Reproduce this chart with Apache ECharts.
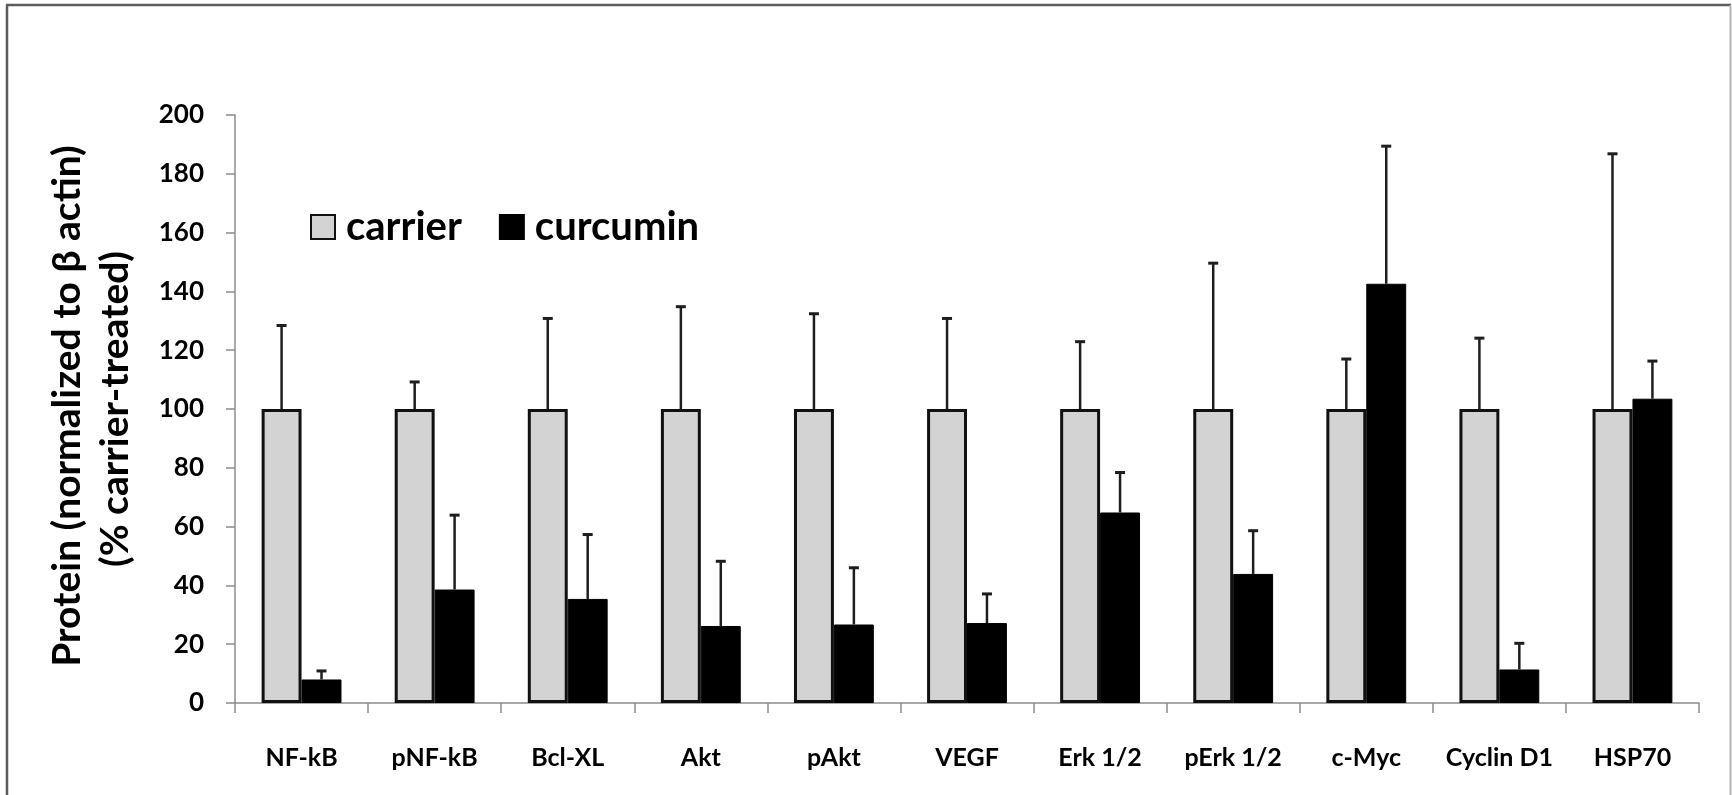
<!DOCTYPE html>
<html>
<head>
<meta charset="utf-8">
<script src="https://cdn.jsdelivr.net/npm/echarts@6/dist/echarts.min.js"></script>
<style>
  html, body { margin: 0; padding: 0; background: #fff; }
  #chart { width: 1732px; height: 795px; }
</style>
</head>
<body>
<div id="chart"></div>
<script>
// Proteins measured
const categories = ['NF-kB', 'pNF-kB', 'Bcl-XL', 'Akt', 'pAkt', 'VEGF', 'Erk 1/2', 'pErk 1/2', 'c-Myc', 'Cyclin D1', 'HSP70'];
// Mean protein level, % of carrier-treated
const carrier = [100, 100, 100, 100, 100, 100, 100, 100, 100, 100, 100];
const curcumin = [8, 38.6, 35.4, 26.2, 26.7, 27.2, 64.8, 43.9, 142.6, 11.4, 103.5];
// Upper error (SD) for each group
const carrierErr = [28.4, 9.2, 30.8, 34.8, 32.4, 30.8, 22.9, 49.6, 17.0, 24.1, 86.8];
const curcuminErr = [2.9, 25.3, 21.9, 22.0, 19.3, 9.9, 13.6, 14.7, 46.8, 8.9, 12.8];
// Value axis ticks
const yTicks = { min: 0, max: 200, interval: 20 };
// Value axis title, one entry per line
const yTitle = ['Protein (normalized to β actin)', '(% carrier-treated)'];

const FONT = 'Lato';
const BAR_FRAC = 0.30;   // bar width as share of a category band

function errorSeries(values, errs, side) {
  return {
    type: 'custom',
    z: 5,
    silent: true,
    data: values.map((v, i) => [i, v, errs[i]]),
    renderItem: function (params, api) {
      const i = api.value(0), v = api.value(1), e = api.value(2);
      const band = api.size([1, 0])[0];
      const base = api.coord([i, v]);
      const top = api.coord([i, v + e]);
      const x = base[0] + side * band * BAR_FRAC / 2;
      const capHalf = 5;
      return {
        type: 'group',
        children: [
          { type: 'line', shape: { x1: x, y1: base[1], x2: x, y2: top[1] }, style: { stroke: '#1e1e1e', lineWidth: 2.5 } },
          { type: 'line', shape: { x1: x - capHalf, y1: top[1], x2: x + capHalf, y2: top[1] }, style: { stroke: '#1e1e1e', lineWidth: 3 } }
        ]
      };
    }
  };
}

const titleStyle = { fill: '#000', font: 'bold 39px ' + FONT, textAlign: 'center', textVerticalAlign: 'middle' };

const chart = echarts.init(document.getElementById('chart'), null, { renderer: 'canvas' });
chart.setOption({
  backgroundColor: '#ffffff',
  animation: false,
  textStyle: { fontFamily: FONT },
  grid: { left: 235, right: 33, top: 115, bottom: 92, outerBoundsMode: 'none', containLabel: false },
  legend: {
    left: 305,
    top: 202,
    itemWidth: 24,
    itemHeight: 24,
    itemGap: 37,
    icon: 'rect',
    data: ['carrier', 'curcumin'],
    textStyle: { fontFamily: FONT, fontWeight: 'bold', fontSize: 40, color: '#000', padding: [0, 0, 0, 6] }
  },
  xAxis: {
    type: 'category',
    data: categories,
    axisLine: { lineStyle: { color: '#8c8c8c', width: 1.5 } },
    axisTick: { show: true, length: 10, lineStyle: { color: '#8c8c8c', width: 1.5 } },
    axisLabel: { color: '#000', fontFamily: FONT, fontWeight: 'bold', fontSize: 25, margin: 42, interval: 0 },
    splitLine: { show: false }
  },
  yAxis: {
    type: 'value',
    min: yTicks.min,
    max: yTicks.max,
    interval: yTicks.interval,
    axisLine: { show: true, lineStyle: { color: '#8c8c8c', width: 1.5 } },
    axisTick: { show: true, length: 9, lineStyle: { color: '#8c8c8c', width: 1.5 } },
    axisLabel: { color: '#000', fontFamily: FONT, fontWeight: 'bold', fontSize: 26, margin: 31 },
    splitLine: { show: false }
  },
  series: [
    {
      name: 'carrier',
      type: 'bar',
      data: carrier,
      barWidth: (BAR_FRAC * 100) + '%',
      barGap: '0%',
      itemStyle: { color: '#d3d3d3', borderColor: '#111111', borderWidth: 3 }
    },
    {
      name: 'curcumin',
      type: 'bar',
      data: curcumin,
      barWidth: (BAR_FRAC * 100) + '%',
      barGap: '0%',
      itemStyle: { color: '#000000', borderColor: '#000000', borderWidth: 1 }
    },
    errorSeries(carrier, carrierErr, -1),
    errorSeries(curcumin, curcuminErr, 1)
  ],
  graphic: [
    // value axis title, reading upwards
    { type: 'text', x: 67, y: 406, rotation: Math.PI / 2, style: Object.assign({ text: yTitle[0] }, titleStyle) },
    { type: 'text', x: 115, y: 409, rotation: Math.PI / 2, style: Object.assign({ text: yTitle[1] }, titleStyle) },
    // frame
    { type: 'line', shape: { x1: 7, y1: 5, x2: 7, y2: 800 }, style: { stroke: '#5c5c5c', lineWidth: 2.5 } },
    { type: 'line', shape: { x1: 6, y1: 5, x2: 1731, y2: 5 }, style: { stroke: '#5c5c5c', lineWidth: 2.5 } },
    { type: 'line', shape: { x1: 1730.5, y1: 5, x2: 1730.5, y2: 800 }, style: { stroke: '#b4b4b4', lineWidth: 2 } }
  ]
});
</script>
</body>
</html>
